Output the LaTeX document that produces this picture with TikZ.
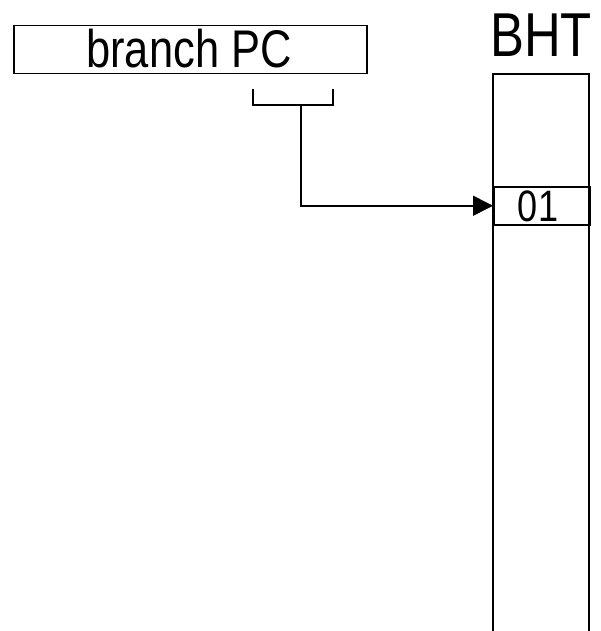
\documentclass[tikz,border=0pt]{standalone}
\usepackage{fontspec}
\setmainfont[FakeStretch=0.82]{Liberation Sans}
\usetikzlibrary{arrows.meta}
\begin{document}
\begin{tikzpicture}[x=1pt,y=-1pt,
  line width=1.5pt,
  field/.style={draw,inner sep=0pt,anchor=north west},
  label/.style={inner sep=0pt}]
\useasboundingbox (0,0) rectangle (601,631);
% register holding the branch address
\node[field,minimum width=353pt,minimum height=48pt] (pc) at (13,25) {};
\node[label,font=\fontsize{53}{53}\selectfont,anchor=base] (pctext) at (189,68) {branch PC};
% bracket selecting the index bits
\coordinate (bl) at (253,89);
\coordinate (br) at (333,89);
\coordinate (stem) at (301,105);
\draw (bl) -- (253,105) -- (333,105) -- (br);
% table column (continues past the lower edge)
\draw (493,631) -- (493,74) -- (589,74) -- (589,631);
\node[label,font=\fontsize{62}{62}\selectfont,anchor=base] (bht) at (541,57) {BHT};
% selected entry
\node[field,minimum width=96pt,minimum height=38pt] (cell) at (493,186) {};
\node[label,font=\fontsize{44}{44}\selectfont,anchor=base] (celltext) at (538,221) {01};
% index lookup
\draw[-{Triangle[length=20pt,width=20pt]}] (stem) |- (cell.west);
\end{tikzpicture}
\end{document}
